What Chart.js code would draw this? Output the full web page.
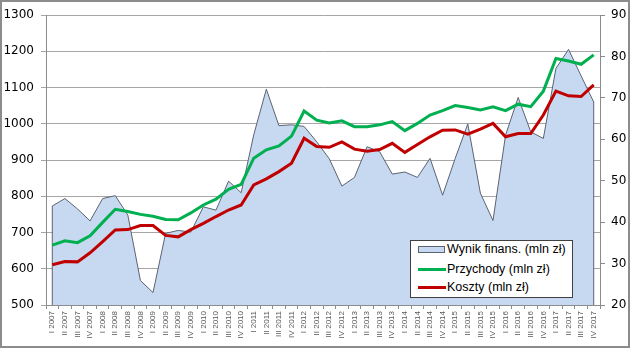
<!DOCTYPE html>
<html>
<head>
<meta charset="utf-8">
<script src="https://cdn.jsdelivr.net/npm/chart.js@4"></script>
<style>
  body { margin: 0; background: #fff; }
  #wrap { position: relative; width: 630px; height: 348px; }
  #legend {
    position: absolute; left: 410px; top: 240px; width: 161px; height: 56px;
    border: 1px solid #404040; background: #fff;
    font-family: "Liberation Sans", Arial, sans-serif; font-size: 12.5px; color: #000;
  }
  .item { position: absolute; left: 7px; height: 16px; line-height: 16px; white-space: nowrap; }
  .item span.ic { display: inline-block; vertical-align: middle; width: 28px; margin-right: 1px; }
</style>
</head>
<body>
<div id="wrap">
  <canvas id="myChart" width="630" height="348"></canvas>
  <div id="legend"></div>
</div>
<script>
const quarters = [
  'I 2007','II 2007','III 2007','IV 2007',
  'I 2008','II 2008','III 2008','IV 2008',
  'I 2009','II 2009','III 2009','IV 2009',
  'I 2010','II 2010','III 2010','IV 2010',
  'I 2011','II 2011','III 2011','IV 2011',
  'I 2012','II 2012','III 2012','IV 2012',
  'I 2013','II 2013','III 2013','IV 2013',
  'I 2014','II 2014','III 2014','IV 2014',
  'I 2015','II 2015','III 2015','IV 2015',
  'I 2016','II 2016','III 2016','IV 2016',
  'I 2017','II 2017','III 2017','IV 2017'
]

// right axis (mln zł)
const wynik = [
  43.9, 45.7, 43.2, 40.3,
  45.7, 46.4, 41.7, 25.9,
  23.0, 37.3, 38.0, 37.6,
  43.7, 42.9, 49.9, 47.1,
  61.1, 72.1, 63.3, 63.5,
  63.1, 59.4, 55.3, 48.7,
  50.8, 58.2, 57.0, 51.6,
  52.1, 50.8, 55.4, 46.5,
  55.4, 63.7, 47.0, 40.4,
  61.0, 70.1, 61.8, 60.2,
  77.1, 81.7, 75.3, 69.0
]

// left axis (mln zł)
const przychody = [
  665, 677, 672, 691,
  728, 764, 758, 750,
  745, 736, 735, 754,
  776, 792, 819, 833,
  905, 928, 939, 966,
  1035, 1010, 1002, 1008,
  992, 992, 997, 1006,
  981, 1001, 1024, 1036,
  1050, 1045, 1038, 1047,
  1036, 1054, 1047, 1090,
  1180, 1173, 1164, 1190
]

const koszty = [
  611, 620, 619, 644,
  675, 707, 708, 719,
  719, 692, 688, 708,
  725, 744, 762, 776,
  831, 848, 868, 891,
  960, 937, 935, 950,
  930, 924, 929, 946,
  921, 943, 964, 982,
  983, 971, 985, 1001,
  964, 973, 973, 1024,
  1090, 1077, 1075, 1107
]

const leftTicks = { min: 500, max: 1300, step: 100 }
const rightTicks = { min: 20, max: 90, step: 10 }

const axisFont = { family: 'DejaVu Sans', size: 12 }

// obramowanie wykresu + boczne krawedzie obszaru
const extras = {
  id: 'extras',
  afterDatasetDraw (chart, args) {
    if (args.index !== 0) return
    const ctx = chart.ctx
    const pts = args.meta.data
    const bottom = chart.scales.y1.bottom
    ctx.save()
    ctx.strokeStyle = chart.data.datasets[0].borderColor
    ctx.lineWidth = 1
    ctx.beginPath()
    ctx.moveTo(pts[0].x, pts[0].y)
    ctx.lineTo(pts[0].x, bottom)
    ctx.moveTo(pts[pts.length - 1].x, pts[pts.length - 1].y)
    ctx.lineTo(pts[pts.length - 1].x, bottom)
    ctx.stroke()
    ctx.restore()
  },
  afterDraw (chart) {
    const ctx = chart.ctx
    ctx.save()
    ctx.strokeStyle = '#8c8c8c'
    ctx.lineWidth = 2
    ctx.strokeRect(1, 1, chart.width - 2, chart.height - 2)
    ctx.restore()
  }
}

let ctx = document.getElementById('myChart').getContext('2d')
let chart = new Chart(ctx, {
  type: 'line',
  data: {
    labels: quarters,
    datasets: [
      {
        label: 'Wynik finans. (mln zł)',
        data: wynik,
        yAxisID: 'y1',
        fill: 'start',
        backgroundColor: '#c6d9f1',
        borderColor: '#5b6272',
        borderWidth: 1,
        pointRadius: 0,
        tension: 0,
        order: 3
      },
      {
        label: 'Przychody (mln zł)',
        data: przychody,
        yAxisID: 'y',
        fill: false,
        borderColor: '#00b050',
        borderWidth: 3,
        pointRadius: 0,
        tension: 0,
        order: 1
      },
      {
        label: 'Koszty (mln zł)',
        data: koszty,
        yAxisID: 'y',
        fill: false,
        borderColor: '#c00000',
        borderWidth: 3,
        pointRadius: 0,
        tension: 0,
        order: 2
      }
    ]
  },
  options: {
    responsive: false,
    animation: false,
    devicePixelRatio: 1,
    layout: { padding: { top: 15, left: 0, right: 0, bottom: 0 } },
    plugins: {
      legend: { display: false },
      tooltip: { enabled: false }
    },
    scales: {
      x: {
        offset: true,
        grid: { offset: true, drawOnChartArea: false, tickLength: 4, color: '#8c8c8c' },
        border: { color: '#8c8c8c' },
        ticks: {
          autoSkip: false, minRotation: 90, maxRotation: 90, padding: 2,
          color: '#595959', font: { family: 'Liberation Sans', size: 8 }
        },
        afterFit: (scale) => { scale.height = 43 }
      },
      y: {
        position: 'left',
        min: leftTicks.min,
        max: leftTicks.max,
        ticks: {
          stepSize: leftTicks.step, color: '#000', font: axisFont, padding: 7,
          callback: (value) => String(value)
        },
        grid: { color: '#a6a6a6', tickLength: 5 },
        border: { color: '#8c8c8c' },
        afterFit: (scale) => { scale.width = 46 }
      },
      y1: {
        position: 'right',
        min: rightTicks.min,
        max: rightTicks.max,
        ticks: {
          stepSize: rightTicks.step, color: '#000', font: axisFont, padding: 6,
          callback: (value) => String(value)
        },
        grid: { drawOnChartArea: false, color: '#8c8c8c', tickLength: 5 },
        border: { color: '#8c8c8c' },
        afterFit: (scale) => { scale.width = 30 }
      }
    }
  },
  plugins: [extras]
})

// legenda w HTML
const legendTops = [0, 20, 38]
chart.data.datasets.forEach(function (ds, i) {
  let icon = ''
  if (i === 0) {
    icon = `<span class="ic" style="height:5px;border:1px solid ${ds.borderColor};background:${ds.backgroundColor};width:25px;margin-right:2px"></span>`
  } else {
    icon = `<span class="ic" style="height:3px;background:${ds.borderColor}"></span>`
  }
  let item = document.createElement('div')
  item.className = 'item'
  item.style.top = legendTops[i] + 'px'
  item.innerHTML = icon + ds.label
  document.getElementById('legend').appendChild(item)
})
</script>
</body>
</html>
